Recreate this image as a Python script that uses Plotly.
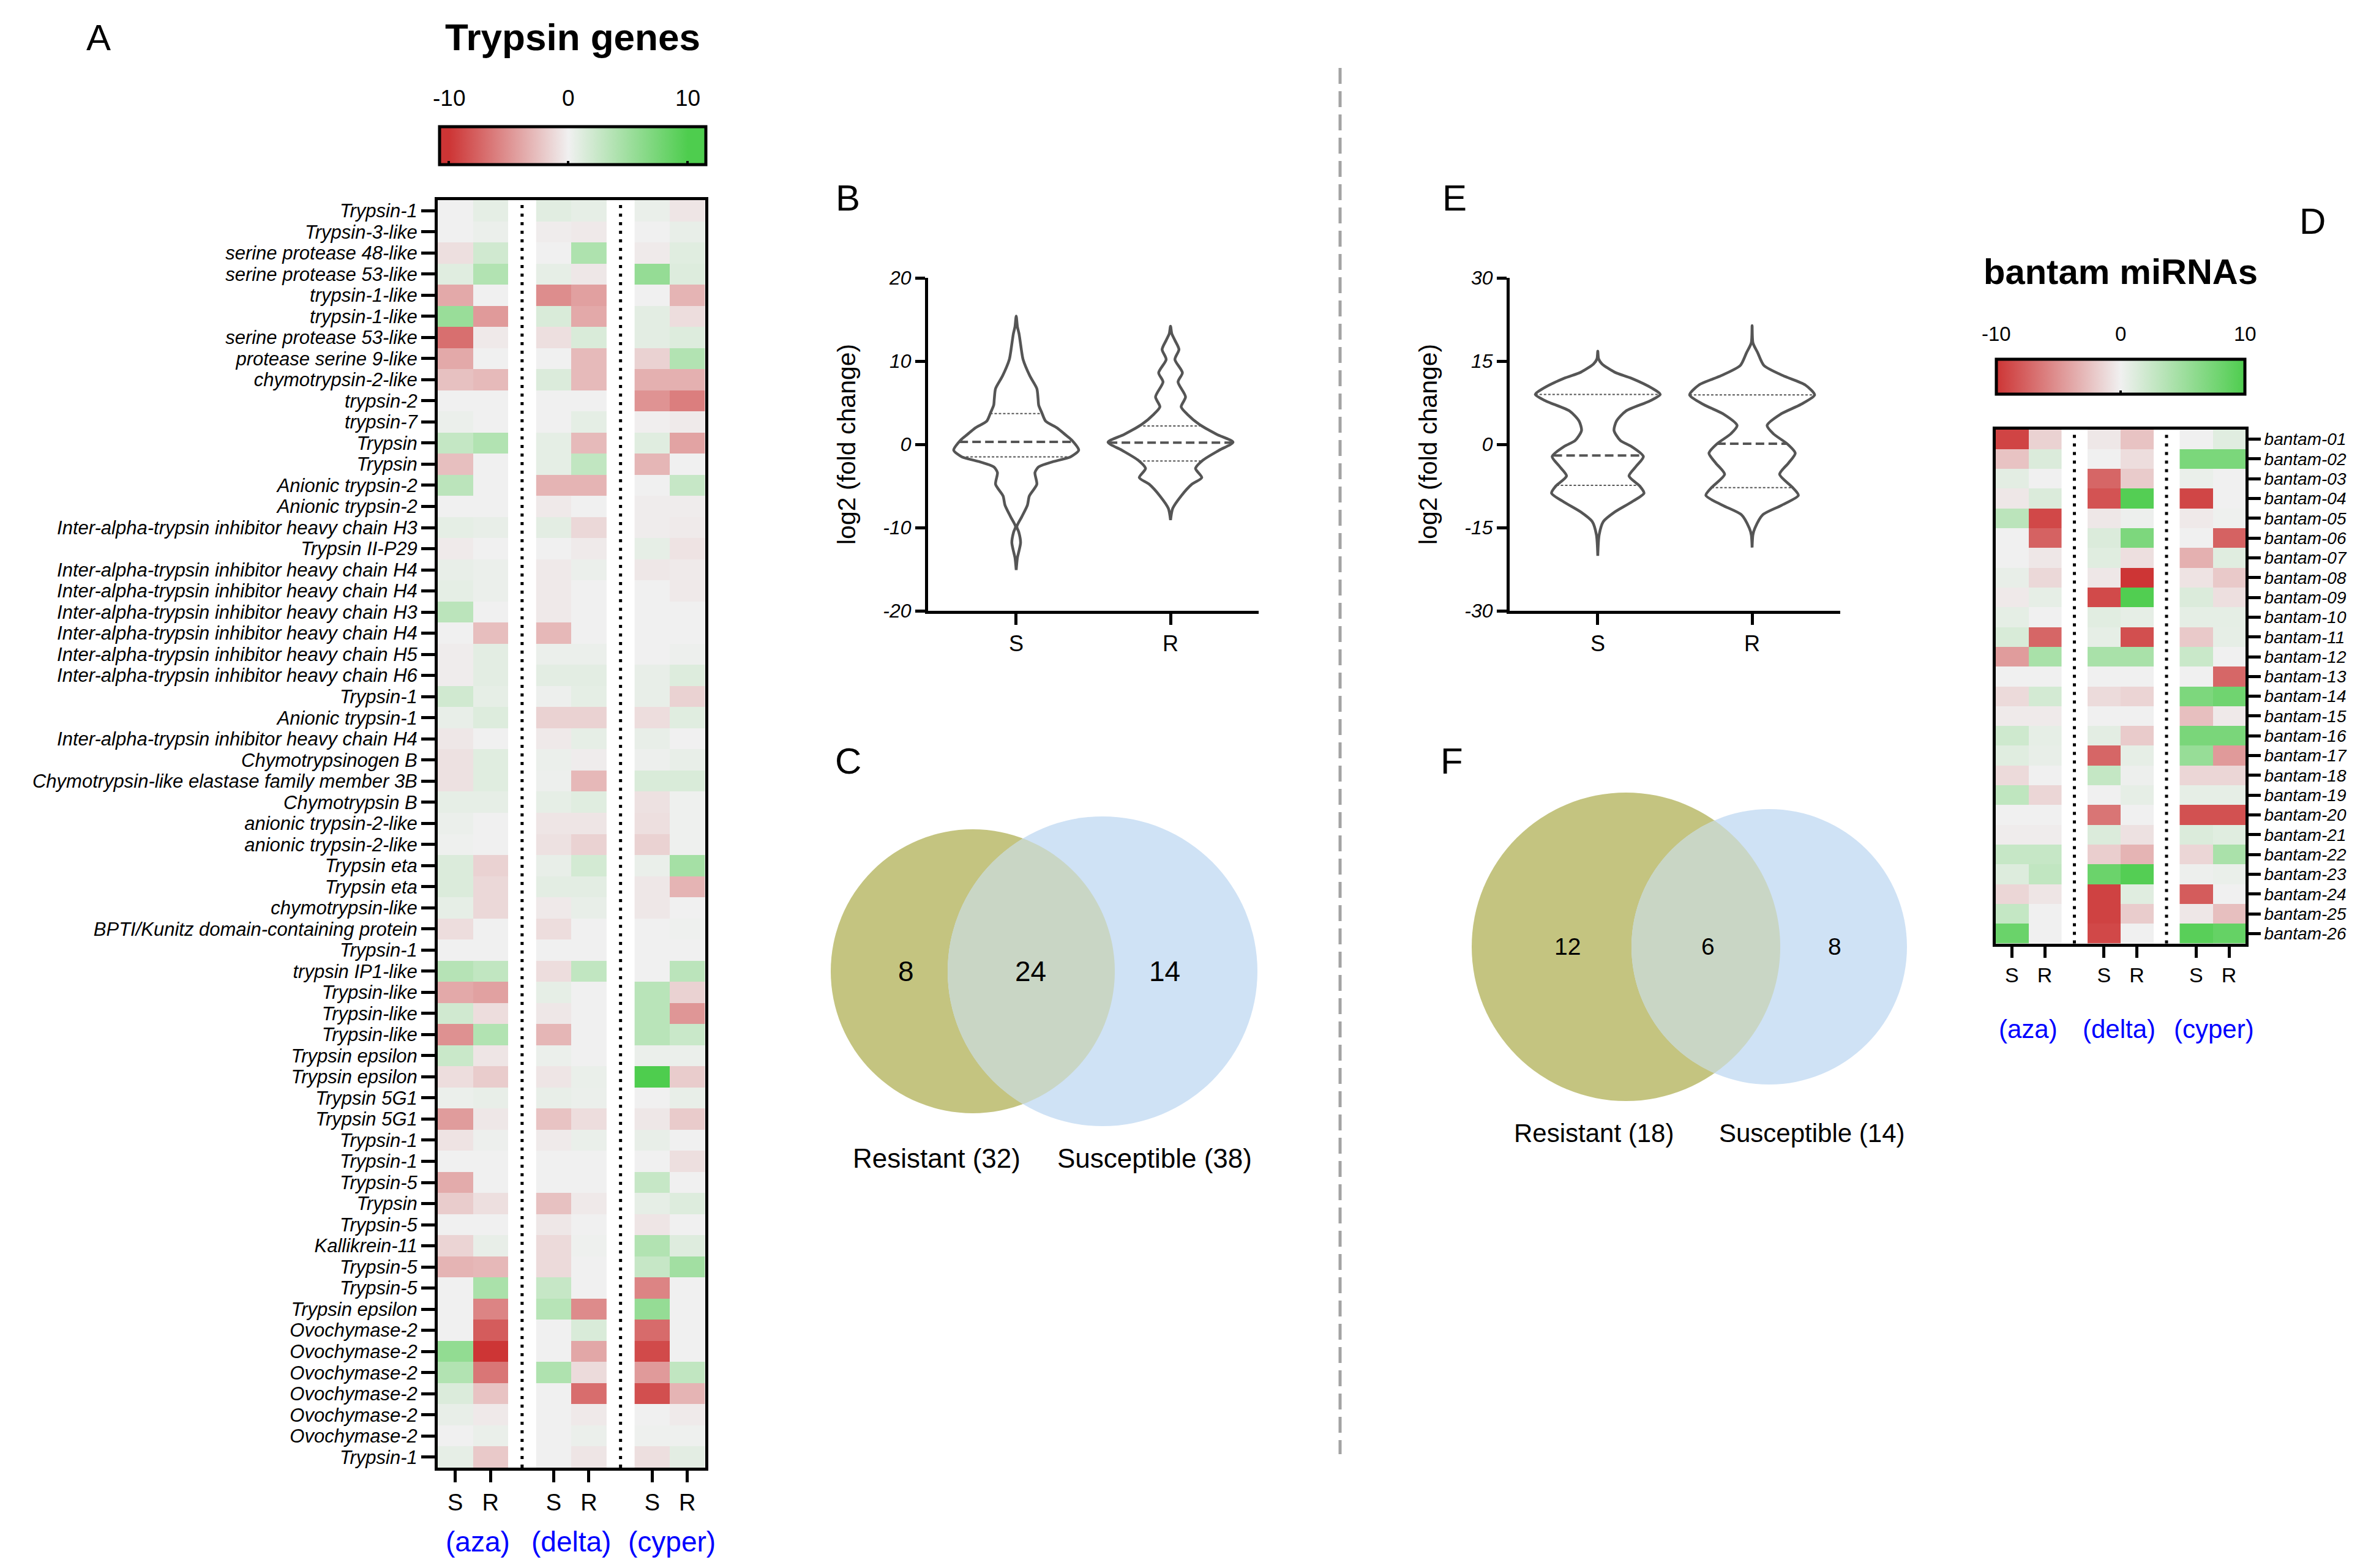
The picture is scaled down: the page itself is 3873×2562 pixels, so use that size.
import numpy as np
import plotly.graph_objects as go

W, H = 3873, 2562
FONT = "Liberation Sans, Arial, Helvetica, sans-serif"

# ---------------- Panel A : trypsin genes heatmap ----------------
trypsin_genes = [
    "Trypsin-1", "Trypsin-3-like", "serine protease 48-like", "serine protease 53-like",
    "trypsin-1-like", "trypsin-1-like", "serine protease 53-like", "protease serine 9-like",
    "chymotrypsin-2-like", "trypsin-2", "trypsin-7", "Trypsin", "Trypsin",
    "Anionic trypsin-2", "Anionic trypsin-2",
    "Inter-alpha-trypsin inhibitor heavy chain H3", "Trypsin II-P29",
    "Inter-alpha-trypsin inhibitor heavy chain H4", "Inter-alpha-trypsin inhibitor heavy chain H4",
    "Inter-alpha-trypsin inhibitor heavy chain H3", "Inter-alpha-trypsin inhibitor heavy chain H4",
    "Inter-alpha-trypsin inhibitor heavy chain H5", "Inter-alpha-trypsin inhibitor heavy chain H6",
    "Trypsin-1", "Anionic trypsin-1", "Inter-alpha-trypsin inhibitor heavy chain H4",
    "Chymotrypsinogen B", "Chymotrypsin-like elastase family member 3B", "Chymotrypsin B",
    "anionic trypsin-2-like", "anionic trypsin-2-like", "Trypsin eta", "Trypsin eta",
    "chymotrypsin-like", "BPTI/Kunitz domain-containing protein", "Trypsin-1", "trypsin IP1-like",
    "Trypsin-like", "Trypsin-like", "Trypsin-like", "Trypsin epsilon", "Trypsin epsilon",
    "Trypsin 5G1", "Trypsin 5G1", "Trypsin-1", "Trypsin-1", "Trypsin-5", "Trypsin", "Trypsin-5",
    "Kallikrein-11", "Trypsin-5", "Trypsin-5", "Trypsin epsilon", "Ovochymase-2", "Ovochymase-2",
    "Ovochymase-2", "Ovochymase-2", "Ovochymase-2", "Ovochymase-2", "Trypsin-1",
]

aza_S = [0, 0, -0.9, 1.0, -3.8, 5.4, -6.9, -3.8, -2.5, 0,
         0.3, 2.7, -2.6, 3.3, 0, 0.7, -0.3, 0.5, 0.7, 3.3,
         0, -0.2, -0.2, 2.0, 0.5, -0.5, -0.8, -0.8, 0.6, 0.3,
         0.1, 1.3, 1.3, 0.6, -1.0, 0, 3.6, -3.8, 2.0, -5.1,
         2.4, -1.0, 0.3, -4.5, -0.7, 0, -3.7, -1.9, 0, -1.5,
         -3.2, 0, 0, 0, 5.8, 3.8, 1.3, 0.5, 0, 0.6]
aza_R = [0.7, 0.3, 2.0, 3.8, 0, -4.6, -0.4, 0, -2.9, 0,
         0, 3.8, 0, 0, 0, 0.5, 0, 0.3, 0.3, 0,
         -2.7, 0.8, 0.8, 0.6, 1.2, 0, 1.0, 1.0, 0.6, 0,
         0, -1.6, -1.3, -1.3, 0, 0, 2.9, -4.2, -1.0, 3.8,
         -0.6, -1.9, 0.5, -0.5, 0.2, 0, 0, -0.9, 0, 0.5,
         -3.0, 4.3, -5.8, -7.9, -10.0, -6.5, -2.4, -0.4, 0.4, -2.1]
delta_S = [0.9, -0.2, 0, 0.6, -5.3, 1.4, -0.9, 0, 1.3, 0,
           0, 0.7, 0.7, -3.2, -0.4, 0.8, 0, -0.4, -0.4, -0.4,
           -3.0, 0.3, 0.8, 0.2, -1.6, -0.4, 0.3, 0.2, 0.6, -0.6,
           -0.8, 0.5, 0.8, -0.4, -1.0, 0, -1.0, 0.6, -0.5, -3.1,
           0.3, -0.6, 0.5, -2.4, -0.3, 0, 0, -2.5, -0.5, -1.2,
           -1.2, 2.6, 3.5, 0, 0, 4.0, 0, 0, 0, 0]
delta_R = [0.6, -0.4, 4.1, -0.5, -4.3, -3.8, 1.4, -2.9, -2.9, 0,
           0.7, -2.9, 2.9, -3.2, 0, -1.3, -0.3, 0.3, 0, 0,
           0, 0.3, 0.8, 0.7, -1.6, 0.6, -0.2, -3.0, 1.0, -0.6,
           -1.6, 1.8, 0.8, 0.5, 0, 0, 2.9, 0, 0, 0,
           0, 0.4, 0.3, -1.0, 0.4, 0, 0, -0.4, 0, 0.1,
           0, 0, -5.4, 1.4, -3.9, -1.1, -7.0, -0.4, 0.3, -0.6]
cyper_S = [0.4, 0, -0.3, 5.6, 0, 0.8, 0.8, -1.6, -3.4, -5.0,
           -0.1, 1.0, -3.1, 0, -0.2, -0.2, 0.6, -0.5, 0, 0,
           0, 0, 0.5, 0.5, -1.0, 0.5, 0.2, 1.4, -0.8, -0.9,
           -1.6, 0.4, -0.5, -0.5, 0, 0, 0, 3.4, 3.4, 3.4,
           0.3, 10.0, 0, -0.5, 0.5, 0, 2.6, 0.6, -0.6, 3.8,
           2.6, -5.8, 5.6, -7.1, -8.9, -4.6, -8.6, 0, 0.1, -0.9]
cyper_R = [-0.6, 0.5, 1.0, 1.2, -3.2, -1.0, 1.2, 3.8, -3.4, -6.1,
           -0.3, -4.1, 0, 2.6, -0.2, -0.3, -0.7, -0.3, -0.4, 0,
           0, 0.2, 1.2, -1.6, 1.0, 0, 0.5, 1.4, 0.1, 0.1,
           0.1, 4.6, -3.2, 0, 0.1, 0, 3.3, -1.6, -4.8, 2.4,
           0.3, -1.9, 0.5, -2.0, 0, -0.9, 0, 1.2, 0, 1.1,
           4.8, 0, 0, 0, 0, 2.9, -3.2, -0.3, 0.1, 0.8]

# ---------------- Panel D : bantam miRNAs heatmap ----------------
bantam_labels = ["bantam-%02d" % i for i in range(1, 27)]
b_aza_S = [-9.2, -2.4, 0.8, -0.5, 3.3, 0, 0, 0.5, -0.4, 0.7, 1.5, -4.5, 0,
           -1.2, -0.3, 2.1, 1.0, -1.2, 3.0, 0, -0.2, 2.6, 1.2, -1.4, 2.7, 8.3]
b_aza_R = [-1.6, 1.3, 0, 1.3, -9.0, -7.6, -0.5, -1.3, 0.6, 0, -7.4, 4.4, 0,
           1.8, -0.3, 0.6, 0.5, 0, -1.4, 0, -0.2, 2.6, 2.9, -0.6, 0, 0]
b_delta_S = [-0.5, 0, -7.4, -8.4, -0.5, 1.3, 1.0, -0.5, -8.9, 0.9, 0.6, 4.4, 0,
             -1.1, 0, 0.8, -7.4, 2.7, 0, -6.6, 1.3, -1.8, 8.2, -9.3, -9.3, -9.0]
b_delta_R = [-2.4, -1.0, -2.0, 9.6, 0.2, 7.1, -0.9, -10.0, 9.8, 0.6, -8.6, 4.4, 0,
             -1.5, 0, -2.0, 0.6, 0.2, 0.6, 0, -0.8, -3.2, 9.6, 1.0, -1.9, 0]
b_cyper_S = [0, 7.2, 0.4, -9.1, -0.4, 0, -3.4, -0.7, 1.3, 0.7, -2.1, 2.4, 0,
             7.1, -2.6, 7.3, 5.5, -1.4, 0.6, -8.5, 1.3, -1.4, 0.2, -7.9, -0.5, 9.3]
b_cyper_R = [1.0, 7.2, 0, 0, 0.1, -7.6, 1.0, -2.1, -0.9, 0.7, 0.6, 0, -7.3,
             7.9, -0.4, 7.3, -4.6, -1.4, 0.6, -8.5, 1.0, 4.3, 0.4, 0, -2.6, 8.6]

col_pos = [0, 1, 2.8, 3.8, 5.6, 6.6]
col_text = ["S", "R", "S", "R", "S", "R"]
groups = ["(aza)", "(delta)", "(cyper)"]

# ---------------- Panels B / E : violin profiles (log2 fold change) -------------
# profile heights (y) and relative half-widths (0..1)
B_S_y = [15.4, 14.1, 13.3, 11.0, 10.2, 8.2, 6.7, 5.5, 4.7, 3.8, 2.8, 2.0, 1.2, 0.5, -0.7,
         -1.5, -2.1, -2.7, -3.4, -4.8, -6.2, -7.3, -8.7, -9.9, -10.5, -11.8, -12.8, -13.6, -15.1]
B_S_w = [0, .02, .045, .09, .11, .22, .33, .35, .36, .41, .47, .65, .78, .89, 1.0,
         .87, .58, .36, .30, .33, .21, .18, .09, .01, .04, .07, .045, .02, 0]
B_R_y = [14.2, 13.3, 12.5, 11.4, 10.2, 8.6, 7.5, 5.7, 4.5, 3.6, 2.4, 1.2, 0.25, -0.7,
         -1.9, -2.9, -4.0, -4.8, -6.2, -7.7, -9.1]
B_R_w = [0, .02, .07, .135, .07, .19, .12, .24, .17, .27, .46, .74, 1.0, .78,
         .52, .40, .50, .34, .17, .035, 0]
B_quart = {"S": (-1.5, 0.3, 3.7), "R": (-2.0, 0.2, 2.2)}

E_S_y = [16.8, 15.4, 14.5, 13.0, 11.9, 10.1, 9.0, 7.8, 6.0, 4.2, 2.5, 0.7, -0.4, -2.2,
         -4.0, -5.7, -7.5, -8.8, -10.4, -12.2, -13.9, -16.3, -20.1]
E_S_w = [0, .013, .067, .27, .54, .87, 1.0, .83, .45, .30, .26, .36, .54, .73,
         .61, .50, .67, .74, .54, .27, .09, .022, 0]
E_R_y = [21.4, 18.3, 16.5, 14.2, 12.4, 10.7, 8.9, 7.2, 5.4, 3.4, 1.9, 0.1, -1.6, -3.4,
         -5.4, -7.8, -9.2, -11.0, -12.7, -15.1, -16.3, -18.6]
E_R_w = [0, .013, .09, .19, .49, .85, 1.0, .78, .45, .24, .34, .56, .69, .58,
         .44, .65, .74, .47, .17, .045, .013, 0]
E_quart = {"S": (-7.4, -2.0, 9.0), "R": (-7.8, 0.1, 8.9)}

# ---------------- Panels C / F : Venn counts ----------------
C_counts = [8, 24, 14]
C_sets = ["Resistant (32)", "Susceptible (38)"]
F_counts = [12, 6, 8]
F_sets = ["Resistant (18)", "Susceptible (14)"]


def px_x(x):
    return x / W


def px_y(y):
    return 1 - y / H


RED, GREY, GREEN = "#cd3535", "#f0f0f0", "#4ecd4e"

fig = go.Figure()

# heatmap A
colsA = [(aza_S, aza_R), (delta_S, delta_R), (cyper_S, cyper_R)]
for g, (s, r) in enumerate(colsA):
    fig.add_trace(go.Heatmap(
        z=[[a, b] for a, b in zip(s, r)], x=col_pos[2 * g:2 * g + 2], y=list(range(len(s))),
        coloraxis="coloraxis", xaxis="x", yaxis="y", hoverinfo="skip"))

# heatmap D
colsD = [(b_aza_S, b_aza_R), (b_delta_S, b_delta_R), (b_cyper_S, b_cyper_R)]
for g, (s, r) in enumerate(colsD):
    fig.add_trace(go.Heatmap(
        z=[[a, b] for a, b in zip(s, r)], x=col_pos[2 * g:2 * g + 2], y=list(range(len(s))),
        coloraxis="coloraxis2", xaxis="x4", yaxis="y4", hoverinfo="skip"))

# violins
HW = 0.405
VCOL = "#555555"


def add_violin(cx, ys, ws, quart, xa, ya):
    ys = np.asarray(ys, float)
    ws = np.asarray(ws, float) * HW
    xs = np.concatenate([cx + ws, (cx - ws)[::-1]])
    yy = np.concatenate([ys, ys[::-1]])
    fig.add_trace(go.Scatter(x=xs, y=yy, mode="lines", fill="toself", fillcolor="white",
                             line=dict(color=VCOL, width=4.5, shape="spline", smoothing=0.7),
                             xaxis=xa, yaxis=ya, hoverinfo="skip"))
    for k, q in enumerate(quart):
        half = np.interp(q, ys[::-1], ws[::-1])
        if k == 1:
            ln = dict(color=VCOL, width=4, dash="14px,7px")
        else:
            ln = dict(color=VCOL, width=2, dash="4px,3px")
        fig.add_trace(go.Scatter(x=[cx - half, cx + half], y=[q, q], mode="lines", line=ln,
                                 xaxis=xa, yaxis=ya, hoverinfo="skip"))


add_violin(0, B_S_y, B_S_w, B_quart["S"], "x2", "y2")
add_violin(1, B_R_y, B_R_w, B_quart["R"], "x2", "y2")
add_violin(0, E_S_y, E_S_w, E_quart["S"], "x3", "y3")
add_violin(1, E_R_y, E_R_w, E_quart["R"], "x3", "y3")

# ---------------- axes ----------------
tick_common = dict(ticks="outside", tickwidth=5, tickcolor="black", showline=True,
                   linewidth=5, linecolor="black", showgrid=False, zeroline=False,
                   automargin=False)

hm_x = dict(tick_common, range=[-0.5, 7.1], tickvals=col_pos, ticktext=col_text, mirror=True)
fig.update_layout(
    xaxis=dict(hm_x, domain=[px_x(715), px_x(1151.5)], anchor="y", ticklen=19,
               ticklabelstandoff=0, tickfont=dict(family=FONT, size=38, color="black")),
    yaxis=dict(tick_common, domain=[px_y(2398), px_y(327)], anchor="x", mirror=True,
               range=[len(trypsin_genes) - 0.5, -0.5], tickvals=list(range(len(trypsin_genes))),
               ticktext=trypsin_genes, ticklen=22,
               tickfont=dict(family=FONT, size=31, color="black", style="italic")),
    xaxis4=dict(hm_x, domain=[px_x(3259.5), px_x(3668)], anchor="y4", ticklen=18,
                ticklabelstandoff=0, tickfont=dict(family=FONT, size=34, color="black")),
    yaxis4=dict(tick_common, domain=[px_y(1541.5), px_y(701.5)], anchor="x4", mirror=True,
                side="right", range=[len(bantam_labels) - 0.5, -0.5],
                tickvals=list(range(len(bantam_labels))), ticktext=bantam_labels, ticklen=20,
                tickfont=dict(family=FONT, size=28, color="black", style="italic")),
)

vx = dict(tick_common, range=[-0.571, 1.571], tickvals=[0, 1], ticktext=["S", "R"], ticklen=18,
          ticklabelstandoff=0, tickfont=dict(family=FONT, size=36, color="black"))
vy = dict(tick_common, ticklen=16, tickfont=dict(family=FONT, size=32, color="black", style="italic"))
B_ticks = [-20, -10, 0, 10, 20]
E_ticks = [-30, -15, 0, 15, 30]
fig.update_layout(
    xaxis2=dict(vx, domain=[px_x(1516), px_x(2056)], anchor="y2"),
    yaxis2=dict(vy, domain=[px_y(998), px_y(454)], anchor="x2", range=[-20, 20],
                tickvals=B_ticks, ticktext=[str(t) for t in B_ticks]),
    xaxis3=dict(vx, domain=[px_x(2466), px_x(3006)], anchor="y3"),
    yaxis3=dict(vy, domain=[px_y(998), px_y(454)], anchor="x3", range=[-30, 30],
                tickvals=E_ticks, ticktext=[str(t) for t in E_ticks]),
)

# ---------------- colour axes ----------------
cminA, cmaxA = -10.8, 11.5


def fA(v):
    return (v - cminA) / (cmaxA - cminA)


fig.update_layout(
    coloraxis=dict(
        cmin=cminA, cmax=cmaxA,
        colorscale=[[0, RED], [fA(-10), RED], [fA(0), GREY], [fA(10), GREEN], [1, GREEN]],
        colorbar=dict(orientation="h", x=px_x(717.5), xanchor="left", y=px_y(206.5),
                      yanchor="top", len=435, lenmode="pixels", thickness=62,
                      thicknessmode="pixels", outlinewidth=5, outlinecolor="black",
                      xpad=0, ypad=0, ticks="inside", tickvals=[-10, 0, 10], ticklen=8,
                      tickwidth=4, tickcolor="black", showticklabels=False)),
    coloraxis2=dict(
        cmin=-10, cmax=10, colorscale=[[0, RED], [0.5, GREY], [1, GREEN]],
        colorbar=dict(orientation="h", x=px_x(3260.5), xanchor="left", y=px_y(587.5),
                      yanchor="top", len=406, lenmode="pixels", thickness=57,
                      thicknessmode="pixels", outlinewidth=5, outlinecolor="black",
                      xpad=0, ypad=0, ticks="inside", tickvals=[-10, 0, 10], ticklen=8,
                      tickwidth=4, tickcolor="black", showticklabels=False)),
)

# ---------------- shapes ----------------
shapes = []
for xa in ("x", "x4"):
    for xv in (1.9, 4.7):
        shapes.append(dict(type="line", xref=xa, yref=xa.replace("x", "y") + " domain",
                           x0=xv, x1=xv, y0=0, y1=1,
                           line=dict(color="black", width=5, dash="5px,9px")))

# central dashed divider
shapes.append(dict(type="line", xref="paper", yref="paper", x0=px_x(2189), x1=px_x(2189),
                   y0=px_y(111), y1=px_y(2376), line=dict(color="#a3a3a3", width=5, dash="26px,12px")))

OLIVE, BLUE, MIX = "#c4c480", "#cfe2f5", "#c9d6c5"


def circle(cx, cy, r, color):
    return dict(type="circle", xref="paper", yref="paper", x0=px_x(cx - r), x1=px_x(cx + r),
                y0=px_y(cy + r), y1=px_y(cy - r), fillcolor=color, line=dict(width=0), layer="below")


def lens(cx1, cx2, cy, r1, r2, color, n=80):
    d = cx2 - cx1
    a = (r1 ** 2 - r2 ** 2 + d ** 2) / (2 * d)
    h = np.sqrt(r1 ** 2 - a ** 2)
    t1 = np.arctan2(h, a)
    t2 = np.arctan2(h, d - a)
    ta = np.linspace(-t1, t1, n)
    tb = np.linspace(np.pi - t2, np.pi + t2, n)
    xs = np.concatenate([cx1 + r1 * np.cos(ta), cx2 + r2 * np.cos(tb)])
    ys = np.concatenate([cy + r1 * np.sin(ta), cy + r2 * np.sin(tb)])
    pts = ["%.6f,%.6f" % (px_x(x), px_y(y)) for x, y in zip(xs, ys)]
    return dict(type="path", xref="paper", yref="paper", path="M " + " L ".join(pts) + " Z",
                fillcolor=color, line=dict(width=0), layer="below")


venn_C = dict(c1=(1589, 1587, 232), c2=(1801, 1587, 253))
venn_F = dict(c1=(2656, 1547, 252), c2=(2890, 1547, 225))
for v in (venn_C, venn_F):
    (x1, y1, r1), (x2, y2, r2) = v["c1"], v["c2"]
    shapes.append(circle(x1, y1, r1, OLIVE))
    shapes.append(circle(x2, y2, r2, BLUE))
    shapes.append(lens(x1, x2, y1, r1, r2, MIX))

fig.update_layout(shapes=shapes)

# ---------------- annotations ----------------
anns = []


def ann(text, x, y, size, color="black", bold=False, italic=False, angle=0, xanchor="center"):
    anns.append(dict(text=text, x=px_x(x), y=px_y(y), xref="paper", yref="paper",
                     showarrow=False, xanchor=xanchor, yanchor="middle", textangle=angle,
                     font=dict(family=FONT, size=size, color=color,
                               weight="bold" if bold else "normal",
                               style="italic" if italic else "normal")))


for letter, x, y in (("A", 161, 61), ("B", 1385, 323), ("C", 1385, 1243),
                     ("E", 2376, 323), ("F", 2371, 1243), ("D", 3777, 362)):
    ann(letter, x, y, 60)

ann("Trypsin genes", 935, 60, 62, bold=True)
ann("bantam miRNAs", 3464, 444, 58, bold=True)
for t, x in zip([-10, 0, 10], [733, 928, 1123]):
    ann(str(t), x, 161, 37)
for t, x in zip([-10, 0, 10], [3261, 3464, 3667]):
    ann(str(t), x, 545, 33)

for g, x in zip(groups, [780, 933, 1097]):
    ann(g, x, 2519, 46, color="#0000ff")
for g, x in zip(groups, [3313, 3461, 3616]):
    ann(g, x, 1682, 42, color="#0000ff")

ann("log2 (fold change)", 1383, 726, 41, angle=-90)
ann("log2 (fold change)", 2333, 726, 41, angle=-90)

for c, x in zip(C_counts, [1480, 1683, 1902]):
    ann(str(c), x, 1587, 46)
for s, x in zip(C_sets, [1530, 1886]):
    ann(s, x, 1892, 44)
for c, x in zip(F_counts, [2560, 2790, 2997]):
    ann(str(c), x, 1546, 39)
for s, x in zip(F_sets, [2603, 2960]):
    ann(s, x, 1851, 42)

fig.update_layout(annotations=anns)

fig.update_layout(width=W, height=H, margin=dict(l=0, r=0, t=0, b=0),
                  paper_bgcolor="white", plot_bgcolor="white", showlegend=False,
                  font=dict(family=FONT, color="black"))

fig.write_html("out.html", config={"displayModeBar": False},
               post_script="document.body.style.margin='0px';document.body.style.overflow='hidden';")
